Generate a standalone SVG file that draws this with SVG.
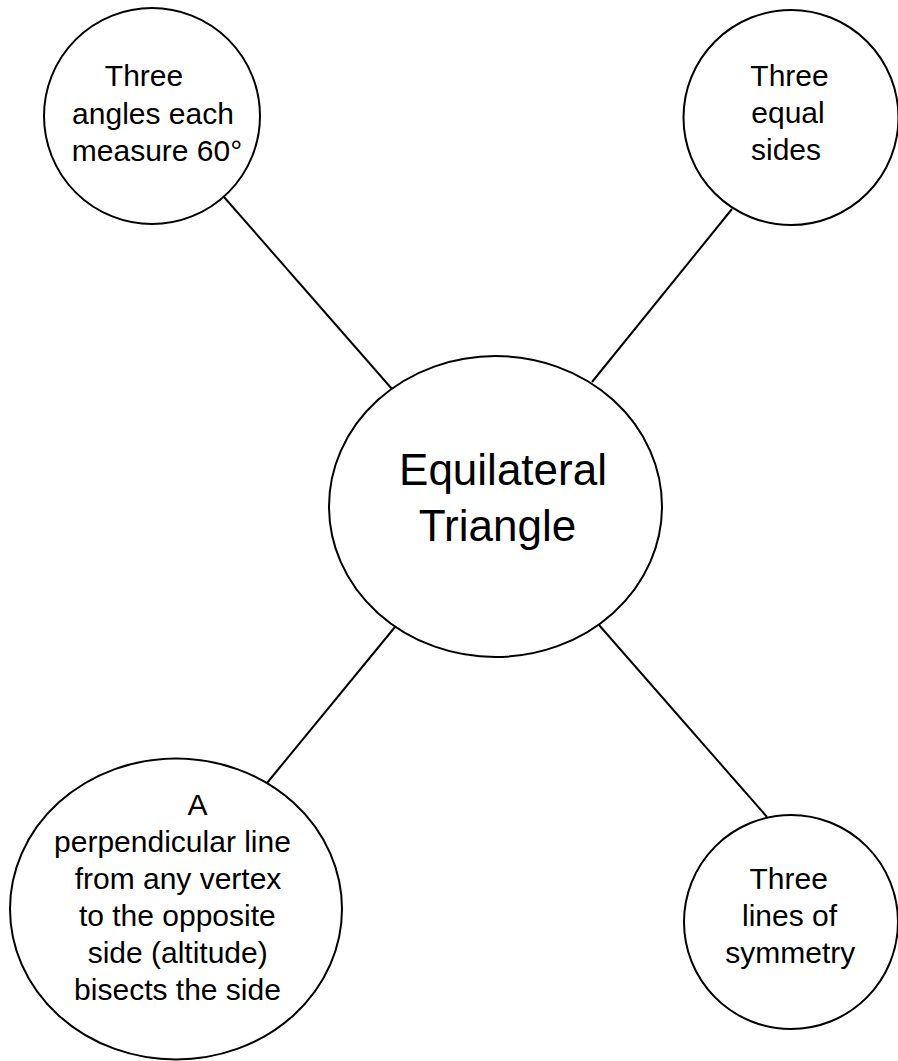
<svg xmlns="http://www.w3.org/2000/svg" width="898" height="1061" viewBox="0 0 898 1061">
<style>
.shape{fill:#ffffff;stroke:#000000;stroke-width:2}
.edge{stroke:#000000;stroke-width:2;fill:none}
.t{font-family:"Liberation Sans",Arial,Helvetica,sans-serif;font-size:30px;fill:#000000;text-anchor:middle}
.big{font-size:44px}
</style>
<rect width="898" height="1061" fill="#ffffff"/>
<g id="connectors">
<line class="edge" x1="224" y1="197" x2="392" y2="389"/>
<line class="edge" x1="732" y1="209" x2="592" y2="382"/>
<line class="edge" x1="395" y1="627" x2="267" y2="783"/>
<line class="edge" x1="599" y1="625" x2="767" y2="817"/>
</g>
<g id="node-center">
<ellipse class="shape" cx="495.5" cy="506.5" rx="166.5" ry="150.5"/>
<text class="t big" x="503" y="485">Equilateral</text>
<text class="t big" x="497.5" y="541">Triangle</text>
</g>
<g id="node-angles">
<circle class="shape" cx="152" cy="116" r="108"/>
<text class="t" x="144" y="86">Three</text>
<text class="t" x="153" y="123.5">angles each</text>
<text class="t" x="157" y="161">measure 60°</text>
</g>
<g id="node-sides">
<circle class="shape" cx="791" cy="117.5" r="107.5"/>
<text class="t" x="789.5" y="86">Three</text>
<text class="t" x="788" y="123">equal</text>
<text class="t" x="786" y="160">sides</text>
</g>
<g id="node-altitude">
<ellipse class="shape" cx="176" cy="909" rx="166" ry="150.5"/>
<text class="t" x="197.5" y="815">A</text>
<text class="t" x="172.5" y="852">perpendicular line</text>
<text class="t" x="178" y="889">from any vertex</text>
<text class="t" x="177.3" y="926">to the opposite</text>
<text class="t" x="177.7" y="963">side (altitude)</text>
<text class="t" x="177.5" y="1000">bisects the side</text>
</g>
<g id="node-symmetry">
<circle class="shape" cx="791" cy="922" r="107"/>
<text class="t" x="788.7" y="889">Three</text>
<text class="t" x="789.5" y="926">lines of</text>
<text class="t" x="790.3" y="963">symmetry</text>
</g>
</svg>
